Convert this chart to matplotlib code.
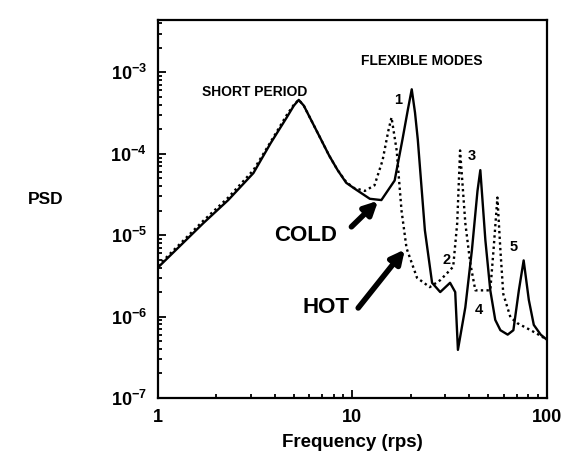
import matplotlib
matplotlib.use('Agg')
import matplotlib.pyplot as plt
from matplotlib.ticker import LogLocator, NullFormatter, FixedLocator

plt.rcParams['font.family'] = ['Liberation Sans', 'DejaVu Sans']
plt.rcParams['mathtext.fontset'] = 'custom'
plt.rcParams['mathtext.rm'] = 'Liberation Sans:bold'
plt.rcParams['mathtext.bf'] = 'Liberation Sans:bold'
plt.rcParams['mathtext.default'] = 'bf'

# cold case (solid line)
cold_freq = [1.0, 1.71, 2.3, 3.1, 3.8, 4.6, 5.0, 5.3, 5.63, 6.9, 7.6, 8.4,
             9.3, 10.5, 12.3, 14.1, 16.5, 18.1, 19.3, 20.2, 21.0, 21.7, 23.6,
             25.7, 28.3, 31.8, 33.8, 34.9, 38.1, 41.2, 44.0, 45.5, 48.3, 51.2,
             54.3, 57.7, 62.9, 67.3, 71.8, 76.0, 80.8, 85.7, 93.0, 100.0]
cold_psd = [4.0e-6, 1.4e-5, 2.7e-5, 5.8e-5, 1.35e-4, 2.8e-4, 3.9e-4, 4.6e-4,
            3.9e-4, 1.5e-4, 9.5e-5, 6.3e-5, 4.4e-5, 3.6e-5, 2.8e-5, 2.7e-5,
            4.7e-5, 1.5e-4, 3.5e-4, 6.2e-4, 3.2e-4, 1.5e-4, 1.15e-5, 2.6e-6,
            2.0e-6, 2.6e-6, 2.0e-6, 3.9e-7, 1.3e-6, 6.6e-6, 3.5e-5, 6.3e-5,
            8.7e-6, 2.1e-6, 9.1e-7, 6.8e-7, 6.0e-7, 6.8e-7, 2.1e-6, 4.9e-6,
            1.6e-6, 7.9e-7, 6.0e-7, 5.2e-7]

# hot case (dotted line)
hot_freq = [1.0, 1.71, 2.3, 3.1, 3.8, 4.6, 5.0, 5.3, 5.63, 6.9, 7.6, 8.4,
            9.3, 10.2, 11.6, 13.0, 14.3, 15.3, 15.9, 16.9, 17.9, 19.0, 21.5,
            25.0, 28.3, 31.0, 33.0, 34.6, 35.8, 38.1, 40.4, 42.9, 51.2, 53.2,
            55.7, 57.7, 59.7, 65.0, 70.5, 82.6, 93.0, 100.0]
hot_psd = [4.2e-6, 1.5e-5, 2.9e-5, 6.3e-5, 1.4e-4, 3.0e-4, 4.0e-4, 4.6e-4,
           3.9e-4, 1.5e-4, 9.5e-5, 6.3e-5, 4.5e-5, 3.8e-5, 3.5e-5, 4.1e-5,
           8.3e-5, 1.9e-4, 2.8e-4, 1.1e-4, 2.0e-5, 6.9e-6, 3.0e-6, 2.3e-6,
           2.8e-6, 3.5e-6, 4.1e-6, 1.4e-5, 1.1e-4, 1.4e-5, 4.5e-6, 2.1e-6,
           2.1e-6, 6.6e-6, 2.9e-5, 6.6e-6, 1.9e-6, 9.8e-7, 8.3e-7, 6.8e-7,
           5.8e-7, 5.2e-7]

y_ticks = [1e-7, 1e-6, 1e-5, 1e-4, 1e-3]
y_ticklabels = [r'$10^{-7}$', r'$10^{-6}$', r'$10^{-5}$', r'$10^{-4}$', r'$10^{-3}$']
x_ticks = [1, 10, 100]
x_ticklabels = ['1', '10', '100']

fig = plt.figure(figsize=(5.72, 4.66), dpi=100)
ax = fig.add_axes([0.276, 0.146, 0.680, 0.811])

ax.plot(cold_freq, cold_psd, color='black', lw=1.7, ls='-')
ax.plot(hot_freq, hot_psd, color='black', lw=1.7, ls=(0, (1, 1.4)))

ax.set_xscale('log')
ax.set_yscale('log')
ax.set_xlim(1, 100)
ax.set_ylim(1e-7, 4.4e-3)

ax.xaxis.set_major_locator(FixedLocator(x_ticks))
ax.set_xticklabels(x_ticklabels, fontsize=13, fontweight='bold')
ax.yaxis.set_major_locator(FixedLocator(y_ticks))
ax.set_yticklabels(y_ticklabels, fontsize=13)
ax.xaxis.set_minor_locator(LogLocator(base=10, subs=range(2, 10)))
ax.yaxis.set_minor_locator(LogLocator(base=10, subs=range(2, 10)))
ax.xaxis.set_minor_formatter(NullFormatter())
ax.yaxis.set_minor_formatter(NullFormatter())
ax.tick_params(which='both', direction='in', top=False, right=False, width=1.3)
ax.tick_params(which='major', length=6, pad=8)
ax.tick_params(which='minor', length=3)
for s in ax.spines.values():
    s.set_linewidth(1.6)

ax.set_xlabel('Frequency (rps)', fontsize=13.5, fontweight='bold', labelpad=6)
fig.text(0.079, 0.571, 'PSD', fontsize=12.5, fontweight='bold', ha='center', va='center')

# annotations
ax.text(3.14, 5.7e-4, 'SHORT PERIOD', fontsize=10, fontweight='bold', ha='center', va='center')
ax.text(22.7, 1.4e-3, 'FLEXIBLE MODES', fontsize=10, fontweight='bold', ha='center', va='center')
for lbl, fx, py in [('1', 17.1, 4.6e-4), ('2', 30.4, 4.9e-6), ('3', 41.2, 9.5e-5),
                    ('4', 44.5, 1.2e-6), ('5', 67.3, 7.1e-6)]:
    ax.text(fx, py, lbl, fontsize=10.5, fontweight='bold', ha='center', va='center')

ax.text(5.78, 1.0e-5, 'COLD', fontsize=16, fontweight='bold', ha='center', va='center')
ax.annotate('', xy=(13.9, 2.8e-5), xytext=(9.66, 1.2e-5),
            arrowprops=dict(arrowstyle='-|>', color='black', lw=4, mutation_scale=20))
ax.text(7.35, 1.3e-6, 'HOT', fontsize=16, fontweight='bold', ha='center', va='center')
ax.annotate('', xy=(19.0, 7.1e-6), xytext=(10.5, 1.2e-6),
            arrowprops=dict(arrowstyle='-|>', color='black', lw=4, mutation_scale=20))

plt.savefig('out.png', dpi=100)
plt.close()
